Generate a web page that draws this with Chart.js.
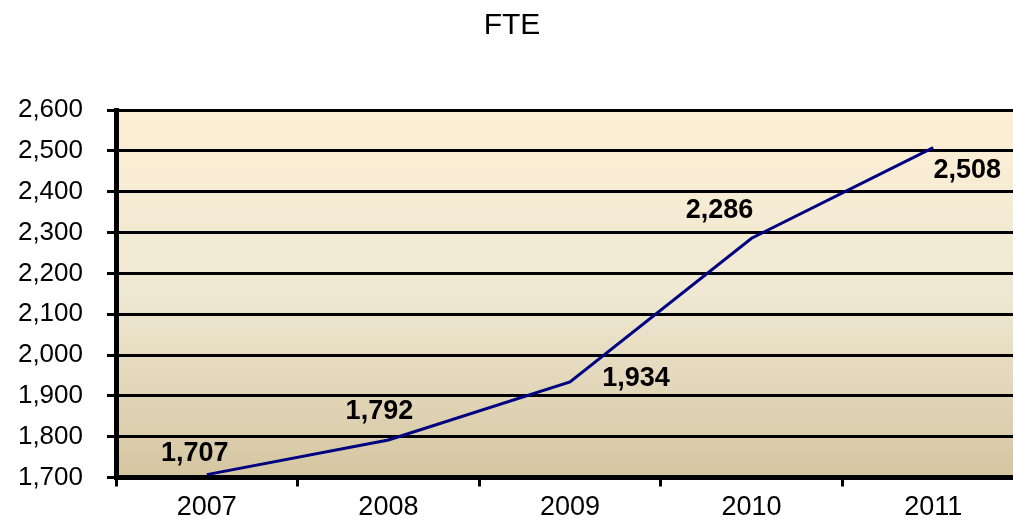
<!DOCTYPE html>
<html>
<head>
<meta charset="utf-8">
<script src="https://cdn.jsdelivr.net/npm/chart.js@4"></script>
<style>
html,body{margin:0;padding:0;background:#fff;overflow:hidden;}
#wrap{width:1026px;height:525px;position:relative;}
</style>
</head>
<body>
<div id="wrap"><canvas id="c"></canvas></div>
<script>
const categories = ['2007', '2008', '2009', '2010', '2011'];
const fteValues = [1707, 1792, 1934, 2286, 2508];
const yTicks = [1700, 1800, 1900, 2000, 2100, 2200, 2300, 2400, 2500, 2600];

const labelOffsets = [[-12, -21], [-9, -28], [66, -3], [-32, -28], [34, 23]];
const FONT = '"Liberation Sans", Arial, sans-serif';

const bgPlugin = {
  id: 'bg',
  beforeDraw(chart) {
    const {ctx, chartArea: a} = chart;
    const g = ctx.createLinearGradient(0, a.top, 0, a.bottom);
    g.addColorStop(0, '#fdefd5');
    g.addColorStop(0.5, '#efe8d2');
    g.addColorStop(1, '#d5c6a1');
    ctx.save();
    ctx.fillStyle = g;
    ctx.fillRect(a.left, a.top, a.right - a.left, a.bottom - a.top);
    ctx.restore();
  }
};

const labelPlugin = {
  id: 'vlabels',
  afterDatasetsDraw(chart) {
    const {ctx} = chart;
    const meta = chart.getDatasetMeta(0);
    ctx.save();
    ctx.font = 'bold 27px ' + FONT;
    ctx.fillStyle = '#000';
    ctx.textAlign = 'center';
    ctx.textBaseline = 'middle';
    meta.data.forEach((pt, i) => {
      const o = labelOffsets[i];
      ctx.fillText(fteValues[i].toLocaleString('en-US'), pt.x + o[0], pt.y + o[1]);
    });
    ctx.restore();
  }
};

new Chart(document.getElementById('c'), {
  type: 'line',
  data: {
    labels: categories,
    datasets: [{
      data: fteValues,
      borderColor: '#000080',
      borderWidth: 3,
      pointRadius: 0,
      tension: 0,
      fill: false
    }]
  },
  options: {
    responsive: true,
    maintainAspectRatio: false,
    animation: false,
    layout: {padding: {left: 0, right: 2, top: 0, bottom: 0}},
    plugins: {
      legend: {display: false},
      tooltip: {enabled: false},
      title: {
        display: true,
        text: 'FTE',
        color: '#000',
        font: {family: FONT, size: 30, weight: 'normal'},
        padding: {top: 8, bottom: 66}
      }
    },
    scales: {
      x: {
        offset: true,
        afterFit(scale) { scale.height = 47.5; },
        grid: {
          offset: true,
          drawOnChartArea: false,
          drawTicks: true,
          tickLength: 9,
          color: '#000',
          lineWidth: 3
        },
        border: {display: true, color: '#000', width: 5},
        ticks: {
          color: '#000',
          font: {family: FONT, size: 27},
          padding: 5,
          maxRotation: 0
        }
      },
      y: {
        min: 1700,
        max: 2600,
        afterFit(scale) { scale.width = 116; },
        afterBuildTicks(scale) { scale.ticks = yTicks.map(v => ({value: v})); },
        grid: {
          color: '#000',
          lineWidth: 3,
          tickLength: 9,
          drawTicks: true
        },
        border: {display: true, color: '#000', width: 5},
        ticks: {
          color: '#000',
          font: {family: FONT, size: 26},
          padding: 24,
          callback: v => Number(v).toLocaleString('en-US')
        }
      }
    }
  },
  plugins: [bgPlugin, labelPlugin]
});
</script>
</body>
</html>
